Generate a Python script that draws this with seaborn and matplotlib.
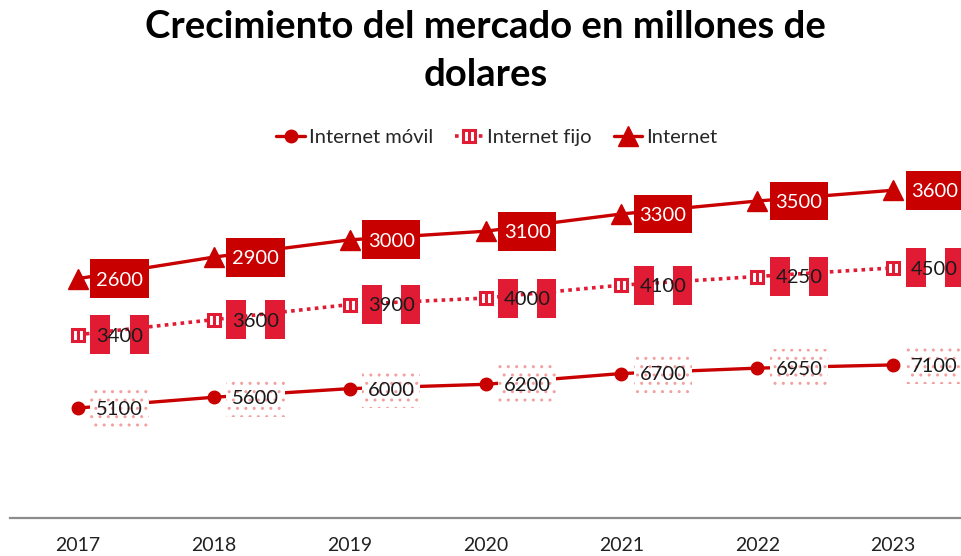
import matplotlib
matplotlib.use("Agg")
import matplotlib.pyplot as plt
import seaborn as sns
import pandas as pd
from matplotlib.lines import Line2D
from matplotlib.patches import Rectangle
from matplotlib.offsetbox import DrawingArea, AnnotationBbox
from matplotlib.legend_handler import HandlerTuple

# ---- data ----
years = ["2017", "2018", "2019", "2020", "2021", "2022", "2023"]
internet_movil = [5100, 5600, 6000, 6200, 6700, 6950, 7100]
internet_fijo = [3400, 3600, 3900, 4000, 4100, 4250, 4500]
internet = [2600, 2900, 3000, 3100, 3300, 3500, 3600]
series_names = ["Internet móvil", "Internet fijo", "Internet"]

RED = "#C80000"
CRIMSON = "#E11B33"
DOT = "#F2A0A0"

sns.set_theme(style="white")
plt.rcParams["font.family"] = ["Lato", "DejaVu Sans"]

# stacked line chart: each series sits on top of the previous ones
rows = []
base = [0] * len(years)
for name, vals in zip(series_names, [internet_movil, internet_fijo, internet]):
    top = [b + v for b, v in zip(base, vals)]
    for i, (y, v, t) in enumerate(zip(years, vals, top)):
        rows.append({"idx": i, "year": y, "serie": name, "valor": v, "acum": t})
    base = top
df = pd.DataFrame(rows)

fig = plt.figure(figsize=(9.61, 5.56), dpi=100)
ax = fig.add_axes([10 / 961, 38 / 556, 951 / 961, 345 / 556])

styles = {
    "Internet móvil": dict(color=RED, lw=2.4, ls="-"),
    "Internet fijo": dict(color=CRIMSON, lw=2.6, ls=(0, (1, 1.2))),
    "Internet": dict(color=RED, lw=2.4, ls="-"),
}
for name in series_names:
    d = df[df.serie == name]
    st = styles[name]
    sns.lineplot(data=d, x="idx", y="acum", ax=ax, color=st["color"],
                 linewidth=st["lw"], linestyle=st["ls"], legend=False, zorder=2)

# markers
dm = df[df.serie == "Internet móvil"]
ax.plot(dm.idx, dm.acum, ls="none", marker="o", ms=9, color=RED, zorder=4)
dfj = df[df.serie == "Internet fijo"]
ax.plot(dfj.idx, dfj.acum, ls="none", marker="s", ms=8, mfc="white",
        mec=CRIMSON, mew=2.2, zorder=4)
ax.plot(dfj.idx, dfj.acum, ls="none", marker="|", ms=8, mec=CRIMSON,
        mew=2.2, zorder=5)
di = df[df.serie == "Internet"]
ax.plot(di.idx, di.acum, ls="none", marker="^", ms=15, color=RED, zorder=4)


def label_box(x, y, kind):
    w, h = 42, 28
    da = DrawingArea(w, h, 0, 0)
    if kind == "Internet":
        da.add_artist(Rectangle((0, 0), w, h, fc=RED, ec="none"))
    elif kind == "Internet fijo":
        da.add_artist(Rectangle((0, 0), 14.4, h, fc=CRIMSON, ec="none"))
        da.add_artist(Rectangle((w - 13.8, 0), 13.8, h, fc=CRIMSON, ec="none"))
    else:
        da.add_artist(Rectangle((0, 0), w, h, fc="white", ec=DOT, lw=0,
                                hatch=".."))
    ab = AnnotationBbox(da, (x, y), xybox=(30, 0), boxcoords="offset points",
                        frameon=False, box_alignment=(0.5, 0.5), pad=0,
                        zorder=6, annotation_clip=False)
    ax.add_artist(ab)


for _, r in df.iterrows():
    label_box(r.idx, r.acum, r.serie)
    ax.annotate(f"{r.valor}", (r.idx, r.acum), xytext=(30, -1),
                textcoords="offset points", ha="center", va="center",
                fontsize=14.5, color="white" if r.serie == "Internet" else "#1a1a1a",
                zorder=7, annotation_clip=False)

ax.set_xlim(-0.5, 6.5)
ax.set_ylim(0, 16000)
ax.set_xticks(range(len(years)))
ax.set_xticklabels(years, fontsize=14, color="#222222")
ax.set_yticks([])
ax.set_xlabel("")
ax.set_ylabel("")
ax.tick_params(axis="x", length=0, pad=14)
for s in ["top", "left", "right"]:
    ax.spines[s].set_visible(False)
ax.spines["bottom"].set_color("#8C8C8C")
ax.spines["bottom"].set_linewidth(1.6)
ax.patch.set_alpha(0)

fig.text(0.505, 1 - 27 / 556, "Crecimiento del mercado en millones de",
         ha="center", va="center", fontsize=27.5, fontweight="bold",
         color="black")
fig.text(0.505, 1 - 75 / 556, "dolares", ha="center", va="center",
         fontsize=27.5, fontweight="bold", color="black")

h_movil = Line2D([], [], color=RED, lw=2.4, marker="o", ms=9)
h_fijo = (Line2D([], [], color=CRIMSON, lw=2.6, ls=(0, (1, 1.2)), marker="s",
                 ms=8, mfc="white", mec=CRIMSON, mew=2.2),
          Line2D([], [], ls="none", marker="|", ms=8, mec=CRIMSON, mew=2.2))
h_int = Line2D([], [], color=RED, lw=2.4, marker="^", ms=15)
fig.legend([h_movil, h_fijo, h_int], series_names, loc="center",
           bbox_to_anchor=(0.517, 1 - 137 / 556), ncol=3, frameon=False,
           fontsize=14.5, handlelength=1.4, handletextpad=0.2,
           columnspacing=1.1,
           handler_map={tuple: HandlerTuple(ndivide=1, pad=0)})

fig.savefig("out.png", dpi=100)
